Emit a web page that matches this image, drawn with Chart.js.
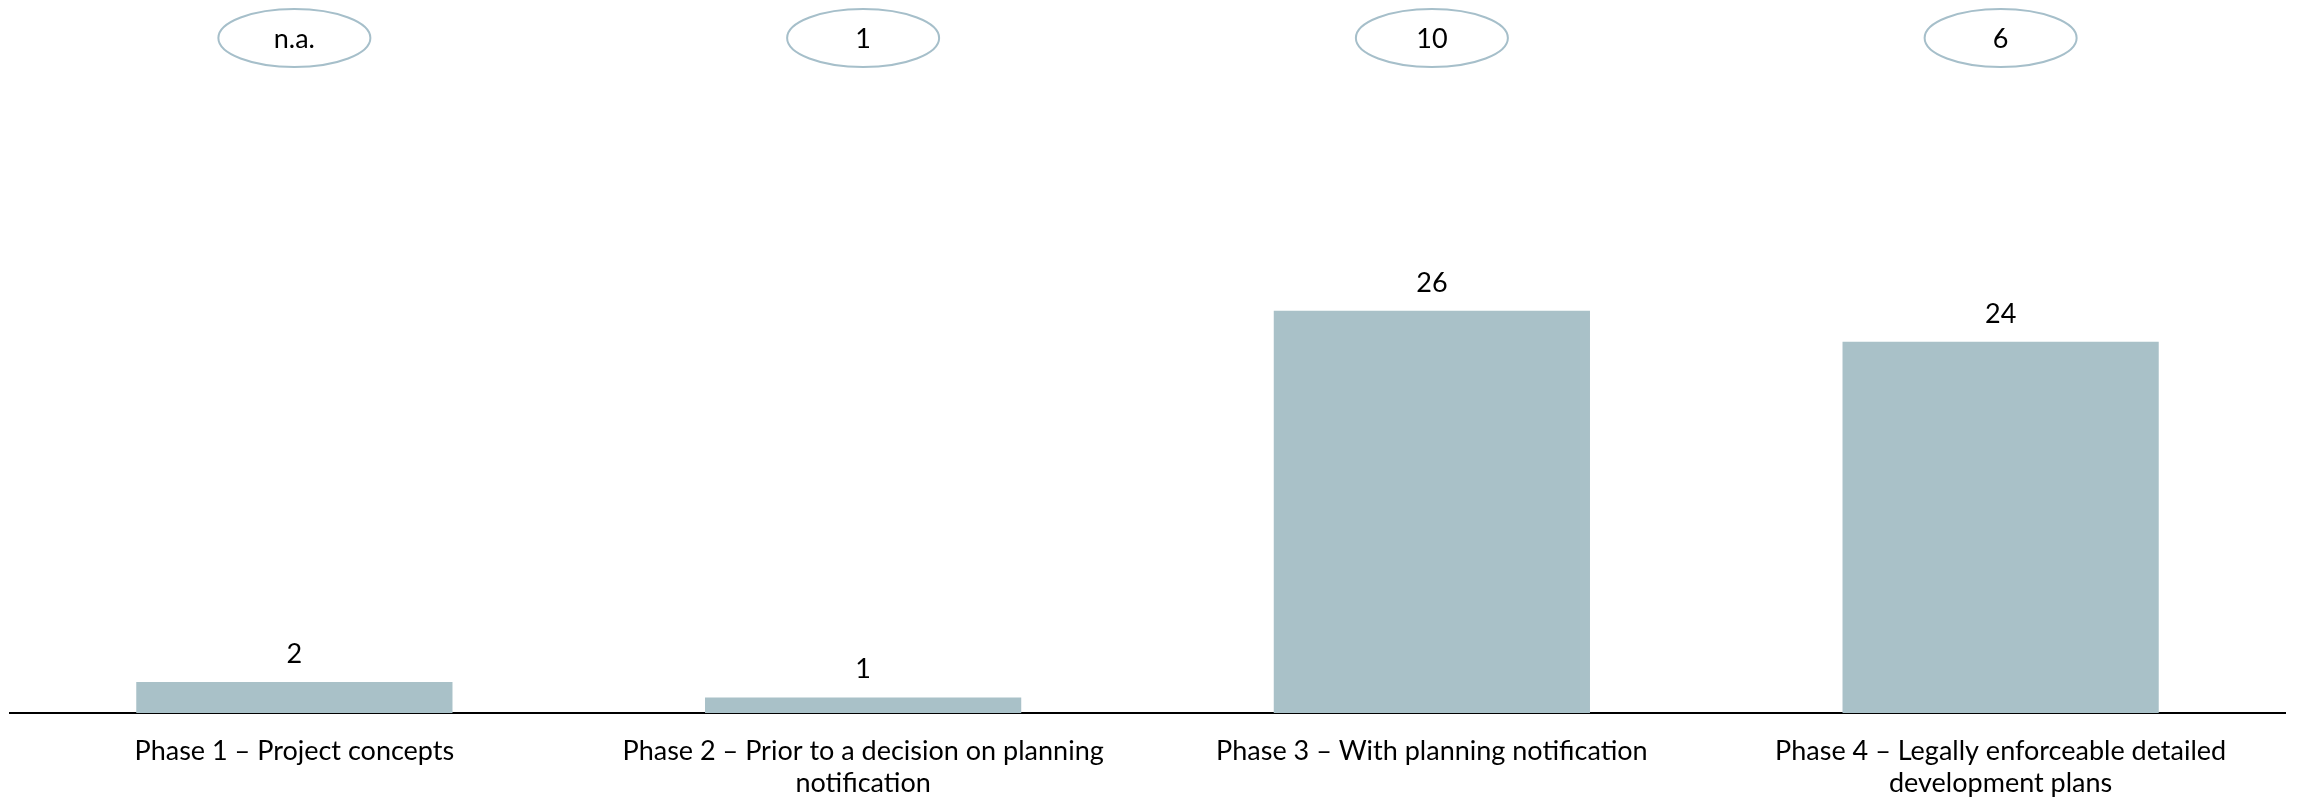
<!DOCTYPE html>
<html>
<head>
<meta charset="utf-8">
<script src="https://cdn.jsdelivr.net/npm/chart.js@4.4.0/dist/chart.umd.min.js"></script>
<style>
  html, body { margin: 0; padding: 0; background: #fff; }
  #wrap { width: 2297px; height: 802px; }
</style>
</head>
<body>
<div id="wrap"><canvas id="phase-chart"></canvas></div>
<script>
const phaseLabels = [
    ['Phase 1 – Project concepts'],
    ['Phase 2 – Prior to a decision on planning', 'notification'],
    ['Phase 3 – With planning notification'],
    ['Phase 4 – Legally enforceable detailed', 'development plans']
];
const phaseValues = [2, 1, 26, 24];
const circledValues = ['n.a.', '1', '10', '6'];

const barColor = '#a9c1c8';
const ringColor = '#a6bfca';
const fontFamily = 'Lato, "Open Sans", sans-serif';
const textSize = 27;

// numbers above each bar
const valueLabels = {
    id: 'valueLabels',
    afterDatasetsDraw(chart) {
        const ctx = chart.ctx;
        const meta = chart.getDatasetMeta(0);
        ctx.save();
        ctx.font = textSize + 'px ' + fontFamily;
        ctx.fillStyle = '#000';
        ctx.textAlign = 'center';
        ctx.textBaseline = 'middle';
        meta.data.forEach((bar, i) => {
            ctx.fillText(String(phaseValues[i]), bar.x, bar.y - 28);
        });
        ctx.restore();
    }
};

// ellipses with counts along the top
const circledNotes = {
    id: 'circledNotes',
    afterDraw(chart) {
        const ctx = chart.ctx;
        const xScale = chart.scales.x;
        ctx.save();
        ctx.font = textSize + 'px ' + fontFamily;
        ctx.fillStyle = '#000';
        ctx.textAlign = 'center';
        ctx.textBaseline = 'middle';
        circledValues.forEach((txt, i) => {
            const cx = xScale.getPixelForValue(i);
            const cy = 38;
            ctx.beginPath();
            ctx.ellipse(cx, cy, 76, 29, 0, 0, Math.PI * 2);
            ctx.lineWidth = 2;
            ctx.strokeStyle = ringColor;
            ctx.stroke();
            ctx.fillText(txt, cx, cy + 1);
        });
        ctx.restore();
    }
};

const phaseCanvas = document.getElementById('phase-chart');

let phaseChart = new Chart(phaseCanvas, {
    type: 'bar',
    data: {
        labels: phaseLabels,
        datasets: [{
            data: phaseValues,
            backgroundColor: barColor,
            borderWidth: 0,
            barPercentage: 0.556,
            categoryPercentage: 1
        }]
    },
    options: {
        responsive: true,
        maintainAspectRatio: false,
        animation: false,
        layout: {
            padding: { left: 10, right: 12, top: 0, bottom: 0 }
        },
        scales: {
            y: {
                display: false,
                min: 0,
                max: 46.1
            },
            x: {
                grid: { display: false, drawTicks: false },
                border: { display: true, color: '#000', width: 2 },
                ticks: {
                    color: '#000',
                    padding: 22,
                    maxRotation: 0,
                    autoSkip: false,
                    font: { family: fontFamily, size: textSize, lineHeight: 1.2 }
                },
                afterFit(scale) {
                    scale.height = 89;
                }
            }
        },
        plugins: {
            legend: { display: false },
            tooltip: { enabled: false }
        }
    },
    plugins: [valueLabels, circledNotes]
});
</script>
</body>
</html>
